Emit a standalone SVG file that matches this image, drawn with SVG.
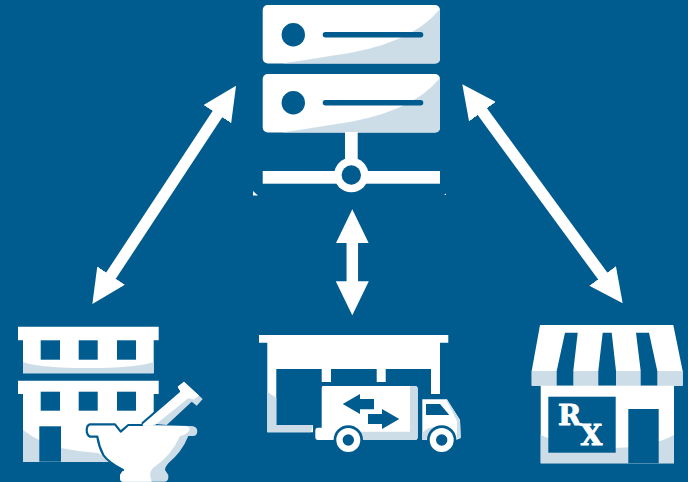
<svg xmlns="http://www.w3.org/2000/svg" width="688" height="482" viewBox="0 0 688 482">
<style>
.w{fill:#fff}.s{fill:#cddde8}.b{fill:#005b8f}
.o{fill:none;stroke:#005b8f;stroke-width:2.2;stroke-linejoin:round;stroke-linecap:round}
.rx{font-family:"DejaVu Serif","Liberation Serif",serif;font-weight:bold;font-size:28px;fill:#fff;stroke:#fff;stroke-width:.9}
.ar{stroke:#fff;stroke-width:11.5;fill:none;marker-start:url(#h);marker-end:url(#h)}
</style>
<defs>
<marker id="h" markerUnits="userSpaceOnUse" viewBox="0 0 34 33" refX="1" refY="16.5" markerWidth="34" markerHeight="33" orient="auto-start-reverse"><path d="M0 0L34 16.5L0 33Z" fill="#fff"/></marker>
</defs>
<rect class="b" width="688" height="482"/>
<g id="connectors">
<line class="ar" x1="110.500" y1="276.400" x2="217.900" y2="113.300"/>
<line class="ar" x1="352.300" y1="242.300" x2="352.300" y2="282.300"/>
<line class="ar" x1="481.800" y1="110.900" x2="603.200" y2="276.700"/>
</g>
<g id="server">
<rect class="w" x="262.700" y="5" width="177.300" height="58.500" rx="5"/>
<path class="s" d="M440 9Q410 46 330 56Q300 61 282 63.500H435Q440 63.500 440 58.500Z"/>
<circle class="b" cx="293.300" cy="34.700" r="11.700"/>
<rect class="b" x="322.700" y="32" width="100.600" height="5.400" rx="2.700"/>
<rect class="w" x="262.700" y="74" width="177.300" height="58.500" rx="5"/>
<path class="s" d="M440 78Q410 115 330 125Q300 130 282 132.500H435Q440 132.500 440 127.500Z"/>
<circle class="b" cx="293.300" cy="102.700" r="11.700"/>
<rect class="b" x="322.700" y="100" width="100.600" height="5.400" rx="2.700"/>
<rect class="w" x="345" y="132" width="12.700" height="35"/>
<rect class="w" x="262.700" y="171" width="177.300" height="12.700"/>
<circle class="w" cx="351.300" cy="175" r="17.300"/>
<circle class="b" cx="351.300" cy="175" r="9.700"/>
<path class="w" d="M253 191L258 195.500H253Z"/>
<path class="w" d="M444 195L446 193.500V195Z"/>
</g>
<g id="hospital">
<path class="w" d="M18 326.700H158.700V340.300H153.700V373.300H23V340.300H18Z"/>
<path class="s" d="M23 362Q40 368 88 368Q135 368 153.700 362V373.300H23Z"/>
<rect class="b" x="40.700" y="340.300" width="19.300" height="19.400"/>
<rect class="b" x="78.700" y="340.300" width="19" height="19.400"/>
<rect class="b" x="117" y="340.300" width="19" height="19.400"/>
<path class="w" d="M18 380.700H158.700V394H153.700V430L120 461.700H23V394H18Z"/>
<path class="s" d="M23 430Q40 443 61 448Q80 452 98 453L112 461.700H23Z"/>
<rect class="b" x="40.700" y="391.700" width="19.300" height="19"/>
<rect class="b" x="78.700" y="391.700" width="19" height="19"/>
<rect class="b" x="117" y="391.700" width="19" height="19"/>
<rect class="b" x="39.300" y="426.300" width="21.700" height="35.400"/>
<path class="s" d="M143.300 422.700L180 391L177.700 386.700L184 381.700L202.700 399L196.700 405.700L191.700 401.700L166.700 425Z"/>
<path class="w" d="M143.300 422.700L180 391L177.700 386.700L184 381.700L199 395.500L194 399.500L188.300 398.300L155 425Z"/>
<path class="o" d="M142.500 423L179 391.500"/>
<path class="s" d="M90 424.300H115L120.700 431.700L128.300 425L190 426Q197.300 426 197.300 431Q197.300 436 193 436L188.300 436Q182 452 168.300 463.300Q165 467 165 470L168.300 475V478Q168 481.700 164 481.700H123Q120 481.700 120 478V475L123.300 470Q108 460 103.300 455Q99 447 97.300 436.700H90Q86.700 435 86.700 430Q86.700 425 90 424.300Z"/>
<path class="w" d="M90 424.300H115L120.700 431.700L128.300 425L186 426Q191 428 189 431Q186 435 180 436Q172 455 153 468Q150 471 150 475L151.700 481.700H123Q120 481.700 120 478V475L123.300 470Q108 460 103.300 455Q99 447 97.300 436.700H90Q86.700 435 86.700 430Q86.700 425 90 424.300Z"/>
<path class="o" d="M97.300 436.700H90Q86.700 435 86.700 430Q86.700 425 90 424.300H115L120.700 431.700L128.300 425H142M97.300 436.700Q99 447 103.300 455Q108 462 123 470"/>
</g>
<g id="warehouse">
<path class="w" d="M259 335H448.300V342.700H440V394H431V369H385.700V382H376.700V369H331V382H321.700V369H276.300V425H313V432.300H267.300V342.700H259Z"/>
<path class="s" d="M267.300 391.700L276.300 398V425H313L311 432.300H267.300Z"/>
<path class="w" d="M323 386H415Q417.700 386 417.700 389V437Q417.700 440 415 440H318Q315.300 440 315.300 437V431Q315.300 427.700 318 427.700H321.700V388Q321.700 386 323 386Z"/>
<path class="s" d="M410 386H415Q417.700 386 417.700 389V437Q417.700 440 415 440H360V431.700H410Z"/>
<path class="b" d="M342.700 404L360 394V399H374V409.300H360V414Z"/>
<path class="b" d="M399.300 419L382 409V414H368V424H382V429Z"/>
<path class="w" d="M422.300 399.300H446.700L460 420L460.700 438L456 440H422.300Z"/>
<path class="s" d="M446 399.300H447L460 420L460.700 438H457V421ZM422.300 433Q428 426 437 427V431L426 440H422.300Z"/>
<path class="b" d="M426 404H440L449.300 415H426Z"/>
<circle class="b" cx="348.300" cy="440" r="14.700"/>
<circle class="w" cx="348.300" cy="440" r="12"/>
<circle class="b" cx="348.300" cy="440" r="5.700"/>
<circle class="b" cx="441.700" cy="440" r="14.700"/>
<circle class="w" cx="441.700" cy="440" r="12"/>
<circle class="b" cx="441.700" cy="440" r="5.700"/>
</g>
<g id="pharmacy">
<path class="w" d="M540 325H673.300L682.700 371V385.700H531.700V371Z"/>
<rect class="s" x="531.700" y="371" width="151" height="14.700"/>
<path class="b" d="M565 332.700H577.700L573.300 371V385.700H556.700V371Z"/>
<path class="b" d="M602.700 332.700H611.700L616 371V385.700H598.300V371Z"/>
<path class="b" d="M636 332.700H649L657.300 371V385.700H640.700V371Z"/>
<rect class="w" x="540.700" y="385.700" width="133.300" height="77.600"/>
<path class="s" d="M540.700 435Q570 448 610 448Q650 448 674 435V463.300H540.700Z"/>
<rect class="b" x="548.300" y="396.700" width="67.400" height="56"/>
<rect class="b" x="628.300" y="409" width="30.400" height="54.300"/>
<text class="rx" x="558" y="425">R<tspan x="580.500" y="445">X</tspan></text>
</g>
</svg>
